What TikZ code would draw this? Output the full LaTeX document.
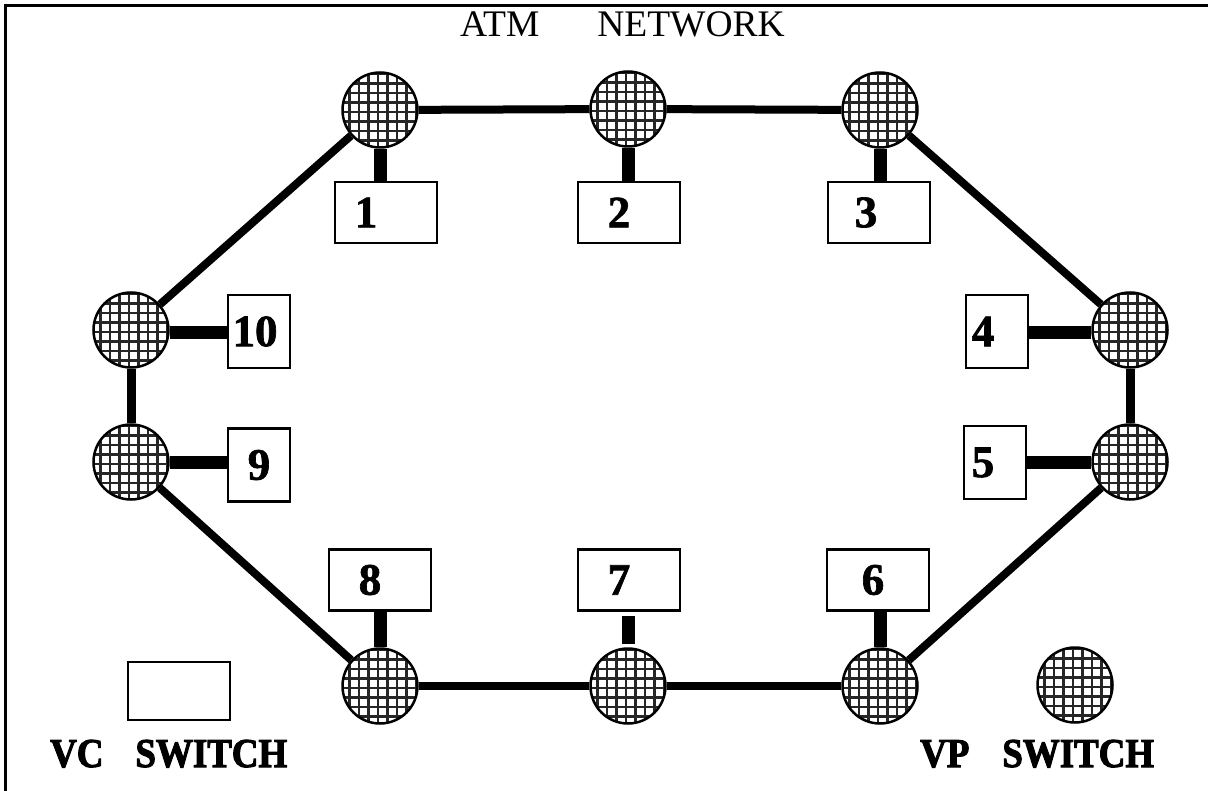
\documentclass[tikz,border=0pt]{standalone}
\usepackage{fontspec}
\setmainfont{Liberation Serif}
\newfontfamily\lblfont[FakeStretch=0.9,BoldFeatures={FakeBold=2.5}]{Liberation Serif}
\newfontfamily\numfont[BoldFeatures={FakeBold=1.5}]{Liberation Serif}
\usetikzlibrary{backgrounds}
\tikzset{
  vp/.style={circle,draw,line width=2.5pt,fill=white,minimum size=75pt,inner sep=0pt,
    path picture={\foreach \k in {-4,...,4}{
      \draw[line width=2.2pt,black!85] ([xshift=\k*9.5pt-2pt]path picture bounding box.north) -- ([xshift=\k*9.5pt-2pt]path picture bounding box.south);
      \draw[line width=2.2pt,black!85] ([yshift=\k*9.5pt-2pt]path picture bounding box.west) -- ([yshift=\k*9.5pt-2pt]path picture bounding box.east);}}},
  vc/.style={draw,line width=2.5pt,fill=white,inner sep=0pt,font=\numfont\bfseries\fontsize{45}{45}\selectfont},
  wide/.style={vc,minimum width=102pt,minimum height=61pt},
  tall/.style={vc,minimum width=62pt,minimum height=73pt},
  ring/.style={line width=8pt},
  stub/.style={line width=13pt},
  link/.style={line width=9pt},
  legendtext/.style={anchor=base west,inner sep=0pt,font=\lblfont\bfseries\fontsize{41}{41}\selectfont}
}
\begin{document}
\begin{tikzpicture}[x=1pt,y=-1pt]
\useasboundingbox (0,0) rectangle (1208,791);
\draw[line width=3pt] (5.5,791) -- (5.5,5.5) -- (1208,5.5);
\node[anchor=base west,inner sep=0pt,font=\fontsize{37.5}{37.5}\selectfont] (title) at (460,37) {ATM\hspace{58pt}NETWORK};
% VP switches
\node[vp] (c1) at (380,110) {};
\node[vp] (c2) at (628,109) {};
\node[vp] (c3) at (880,110) {};
\node[vp] (c4) at (1130,330) {};
\node[vp] (c5) at (1130,462) {};
\node[vp] (c6) at (880,686) {};
\node[vp] (c7) at (628,686) {};
\node[vp] (c8) at (380,686) {};
\node[vp] (c9) at (131,462) {};
\node[vp] (c10) at (131,330) {};
% VC switches
\node[wide] (b1) at (386,212.5) {1\kern40pt};
\node[wide] (b2) at (629,212.5) {2\kern20pt};
\node[wide] (b3) at (879,212.5) {3\kern26pt};
\node[tall] (b4) at (997,331.5) {4\kern28pt};
\node[tall] (b5) at (995,462.5) {5\kern24pt};
\node[wide] (b6) at (878,580) {6\kern10pt};
\node[wide] (b7) at (629,580) {7\kern20pt};
\node[wide] (b8) at (380,580) {8\kern20pt};
\node[tall] (b9) at (259,465) {9};
\node[tall] (b10) at (259,331.5) {10\kern8pt};
% legend
\node[vc,minimum width=102pt,minimum height=58pt] (lvc) at (179,691) {};
\node[vp] (lvp) at (1075,685) {};
\node[legendtext] (vclabel) at (50,767) {VC\hspace{32pt}SWITCH};
\node[legendtext] (vplabel) at (920,767) {VP\hspace{33pt}SWITCH};
\begin{scope}[on background layer]
  \draw[ring] (c1) -- (c2) -- (c3);
  \draw[ring] (c3) -- (c4);
  \draw[ring] (c5) -- (c6);
  \draw[ring] (c6) -- (c7) -- (c8);
  \draw[ring] (c8) -- (c9);
  \draw[ring] (c10) -- (c1);
  \draw[link] (c4) -- (c5);
  \draw[link] (c9) -- (c10);
  \draw[stub] (c1.south) -- (c1.south |- b1.north);
  \draw[stub] (c2.south) -- (c2.south |- b2.north);
  \draw[stub] (c3.south) -- (c3.south |- b3.north);
  \draw[stub] (b4.east |- 0,333) -- (c4.west |- 0,333);
  \draw[stub] (b5.east |- 0,463) -- (c5.west |- 0,463);
  \draw[stub] (b10.east |- 0,333) -- (c10.east |- 0,333);
  \draw[stub] (b9.east |- 0,463) -- (c9.east |- 0,463);
  \draw[stub] (c8.north) -- (c8.north |- b8.south);
  \draw[stub] (c6.north) -- (c6.north |- b6.south);
  \draw[stub,shorten <=3pt,shorten >=4pt] (c7.north) -- (c7.north |- b7.south);
\end{scope}
\end{tikzpicture}
\end{document}
